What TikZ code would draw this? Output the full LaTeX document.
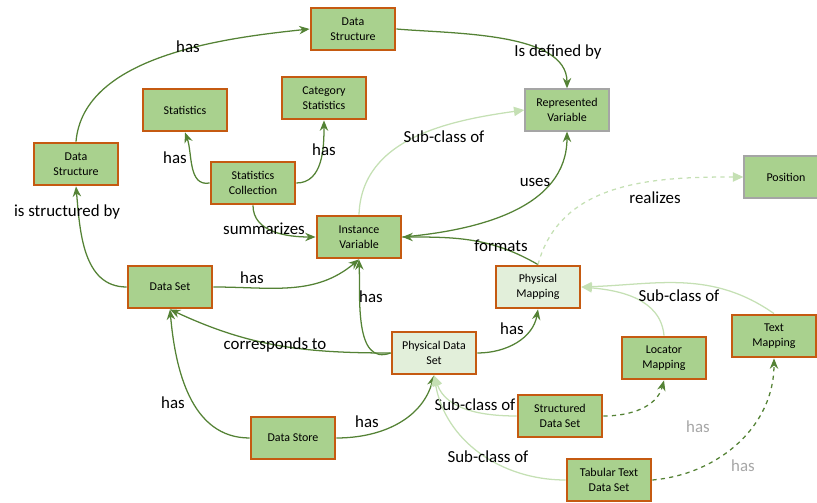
\documentclass[tikz,border=0pt]{standalone}
\usepackage{fontspec}
\setmainfont{Carlito}
\usetikzlibrary{arrows.meta}
\definecolor{boxfill}{HTML}{A9D18E}
\definecolor{palefill}{HTML}{E2EFDA}
\definecolor{orng}{HTML}{C55A11}
\definecolor{grayln}{HTML}{A5A5A5}
\definecolor{edge}{HTML}{548235}
\definecolor{lightedge}{HTML}{C5E0B4}
\definecolor{graytxt}{HTML}{A6A6A6}

\begin{document}
\begin{tikzpicture}[x=0.025cm,y=0.025cm,>={Stealth[length=2.6mm,width=2.1mm]},
  bx/.style={draw=orng,line width=2pt,fill=boxfill,align=center,minimum width=2.1cm,minimum height=1.05cm,inner sep=1pt,font=\fontsize{8.5}{10.5}\selectfont},
  px/.style={bx,fill=palefill},
  gx/.style={bx,draw=grayln,line width=0.9pt},
  ln/.style={->,draw=edge,line width=0.9pt},
  sc/.style={-{Triangle[length=2.6mm,width=2.3mm]},draw=lightedge,line width=0.9pt},
  dl/.style={ln,dashed},
  lbl/.style={font=\fontsize{12}{14}\selectfont,inner sep=0pt}]
  \useasboundingbox (0,0) rectangle (817,-503);
  % boxes
  \node[bx](dst) at (353,-29){Data\\Structure};
  \node[bx](stat) at (185,-110){Statistics};
  \node[bx](cstat) at (324,-98){Category\\Statistics};
  \node[gx](rv) at (567,-110){Represented\\Variable};
  \node[bx](dsl) at (76,-164){Data\\Structure};
  \node[bx](scol) at (253,-183){Statistics\\Collection};
  \node[gx](posn) at (786,-177){Position};
  \node[bx](iv) at (359,-237){Instance\\Variable};
  \node[bx](dset) at (170,-287){Data Set};
  \node[px](pm) at (538,-287){Physical\\Mapping};
  \node[bx](tm) at (774,-336){Text\\Mapping};
  \node[px](pds) at (434,-353){Physical Data\\Set};
  \node[bx](lm) at (664,-358){Locator\\Mapping};
  \node[bx](dstore) at (293,-438){Data Store};
  \node[bx](sds) at (560,-416){Structured\\Data Set};
  \node[bx](ttds) at (609,-480){Tabular Text\\Data Set};
  % relations
  \draw[ln](dsl.north) to[out=85,in=186,looseness=0.85] (dst.west) node[lbl] at (188,-47){has};
  \draw[ln](dst.east) to[out=-5,in=90,looseness=0.8] (rv.north) node[lbl] at (558,-52){Is defined by};
  \draw[ln](scol.west) to[out=190,in=-70] (stat.south) node[lbl] at (175,-158){has};
  \draw[ln](scol.east) to[out=0,in=-90] (cstat.south) node[lbl] at (324,-150){has};
  \draw[ln](scol.south) to[out=-90,in=180] (iv.west) node[lbl] at (264,-229){summarizes};
  \draw[sc](iv.north) to[out=88,in=188] (rv.west) node[lbl] at (444,-137){Sub-class of};
  \draw[ln](iv.east) to[out=5,in=-90] (rv.south) node[lbl] at (535,-182){uses};
  \draw[ln](pm.north) to[out=150,in=0] (iv.east) node[lbl] at (501,-246){formats};
  \draw[sc,dashed](pm.north) to[out=75,in=180] (posn.west) node[lbl] at (655,-198){realizes};
  \draw[ln](dset.east) to[out=0,in=-140] (iv.south) node[lbl] at (252,-278){has};
  \draw[ln](pds.west) to[out=200,in=-88] (iv.south) node[lbl] at (371,-297){has};
  \draw[ln](pds.west) to[out=180,in=-25] (dset.south) node[lbl] at (275,-345){corresponds to};
  \draw[ln](dset.west) to[out=180,in=-85] (dsl.south) node[lbl] at (67,-212){is structured by};
  \draw[ln](dstore.west) to[out=180,in=-85] (dset.south) node[lbl] at (173,-403){has};
  \draw[ln](dstore.east) to[out=0,in=-105] (pds.south) node[lbl] at (367,-422){has};
  \draw[ln](pds.east) to[out=0,in=-100] (pm.south) node[lbl] at (512,-329){has};
  \draw[sc](lm.north) to[out=95,in=-5] (pm.east);
  \draw[sc](tm.north) to[out=145,in=2] (pm.east) node[lbl] at (679,-296){Sub-class of};
  \draw[sc](sds.west) to[out=180,in=-70] (pds.south) node[lbl] at (475,-405){Sub-class of};
  \draw[sc](ttds.west) to[out=180,in=-80] (pds.south) node[lbl] at (488,-457){Sub-class of};
  \draw[dl](sds.east) to[out=0,in=-105] (lm.south) node[lbl,text=graytxt] at (698,-427){has};
  \draw[dl](ttds.east) to[out=5,in=-90] (tm.south) node[lbl,text=graytxt] at (743,-466){has};
\end{tikzpicture}
\end{document}
